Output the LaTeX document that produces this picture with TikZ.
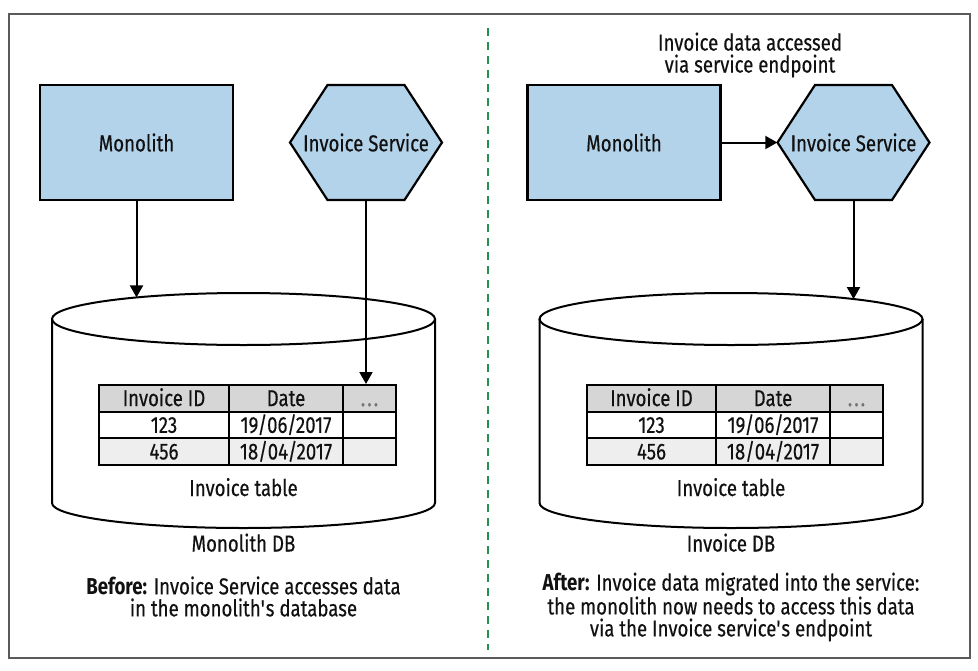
\documentclass[tikz,border=0pt]{standalone}
\usepackage{fontspec}
\setmainfont{Fira Sans}[FakeStretch=0.81, UprightFeatures={FakeBold=0.35}]
\usetikzlibrary{arrows.meta,calc}
\definecolor{boxblue}{HTML}{B3D3EA}
\definecolor{hdrgray}{HTML}{D6D6D6}
\definecolor{rowgray}{HTML}{EEEEEE}
\definecolor{divgreen}{HTML}{23914F}
\definecolor{framegray}{HTML}{5A5A5A}
\definecolor{inkblack}{HTML}{111111}
\newcommand\hexshapeat[1]{%
  \path[hexshape] ($(#1)+(-76,0)$) -- ($(#1)+(-38.5,-57.5)$) -- ($(#1)+(38.5,-57.5)$)
    -- ($(#1)+(76,0)$) -- ($(#1)+(38.5,57.5)$) -- ($(#1)+(-38.5,57.5)$) -- cycle;}
\newcommand\dbshape[1]{% #1 = centre x
  \draw[dbline] (#1-191.5,319) -- (#1-191.5,503)
    arc[start angle=180, end angle=0, x radius=191.5, y radius=25] -- (#1+191.5,319);
  \draw[dbline] (#1,319) ellipse[x radius=191.5, y radius=26];}
\newcommand\invtable[5]{% #1 prefix, #2..#5 column x
  \node[cell, fill=hdrgray, minimum width={(#3-#2)*1pt}] (#1a1) at (#2,384) {Invoice ID};
  \node[cell, fill=hdrgray, minimum width={(#4-#3)*1pt}] (#1b1) at (#3,384) {Date};
  \node[cell, fill=hdrgray, minimum width={(#5-#4)*1pt}, text=black!55] (#1c1) at (#4,384) {.\kern2pt.\kern2pt.};
  \node[cell, fill=white, minimum width={(#3-#2)*1pt}] (#1a2) at (#2,410.7) {123};
  \node[cell, fill=white, minimum width={(#4-#3)*1pt}] (#1b2) at (#3,410.7) {19/06/2017};
  \node[cell, fill=white, minimum width={(#5-#4)*1pt}] (#1c2) at (#4,410.7) {};
  \node[cell, fill=rowgray, minimum width={(#3-#2)*1pt}] (#1a3) at (#2,437.3) {456};
  \node[cell, fill=rowgray, minimum width={(#4-#3)*1pt}] (#1b3) at (#3,437.3) {18/04/2017};
  \node[cell, fill=rowgray, minimum width={(#5-#4)*1pt}] (#1c3) at (#4,437.3) {};}
\begin{document}
\begin{tikzpicture}[x=1pt,y=-1pt,
  font=\fontsize{23}{22}\selectfont, text=inkblack,
  svcbox/.style={draw, line width=2.2pt, fill=boxblue, minimum width=193pt,
    minimum height=115pt, inner sep=0pt},
  hexlabel/.style={minimum width=152pt, minimum height=115pt, inner sep=0pt},
  hexshape/.style={draw, line width=2.2pt, fill=boxblue, line join=miter},
  conn/.style={line width=2pt, -{Triangle[length=12pt,width=13pt]}},
  dbline/.style={line width=2pt},
  cell/.style={draw, line width=2pt, minimum height=26.7pt, inner sep=0pt,
    anchor=north west, text height=15.5pt, text depth=0pt},
  label/.style={anchor=base, inner sep=0pt},
  caption/.style={align=center, inner sep=0pt}]
\fill[white] (0,0) rectangle (978,670);
\useasboundingbox (0,0) rectangle (978,670);
\draw[framegray, line width=1.2pt] (9,14) rectangle (970,658);
\coordinate (divtop) at (488,28);
\coordinate (divbot) at (488,650);
\draw[divgreen, line width=2pt, dash pattern=on 8pt off 6pt] (divtop) -- (divbot);

% ---------- left panel ----------
\node[svcbox] (mono1) at (136.5,142.5) {Monolith};
\coordinate (hex1c) at (366,142.5);
\hexshapeat{hex1c}
\node[hexlabel] (hex1) at (hex1c) {Invoice Service};
\dbshape{243.5}
\invtable{t1}{98}{228}{342}{395}
\coordinate (db1top) at (136.5,297.4);
\draw[conn] (mono1.south) -- (db1top);
\draw[conn] (hex1.south) -- (hex1.south |- t1c1.north);
\node[label] (tbl1) at (243.5,496) {Invoice table};
\node[label] (dbl1) at (243.5,551.5) {Monolith DB};
\node[caption] (cap1) at (243.5,596.5) {\textbf{Before:} Invoice Service accesses data\\in the monolith\textquotesingle s database};

% ---------- right panel ----------
\node[caption] (note2) at (750,55) {Invoice data accessed\\via service endpoint};
\node[svcbox] (mono2) at (624,142.5) {Monolith};
\coordinate (hex2c) at (853.5,142.5);
\hexshapeat{hex2c}
\node[hexlabel] (hex2) at (hex2c) {Invoice Service};
\dbshape{731}
\invtable{t2}{586}{715}{829}{882}
\coordinate (db2top) at (853.5,299.1);
\draw[conn] (mono2.east) -- (hex2.west);
\draw[conn] (hex2.south) -- (db2top);
\node[label] (tbl2) at (731,496) {Invoice table};
\node[label] (dbl2) at (731,551.5) {Invoice DB};
\node[caption] (cap2) at (731,607) {\textbf{After:} Invoice data migrated into the service:\\the monolith now needs to access this data\\via the Invoice service\textquotesingle s endpoint};
\end{tikzpicture}
\end{document}
